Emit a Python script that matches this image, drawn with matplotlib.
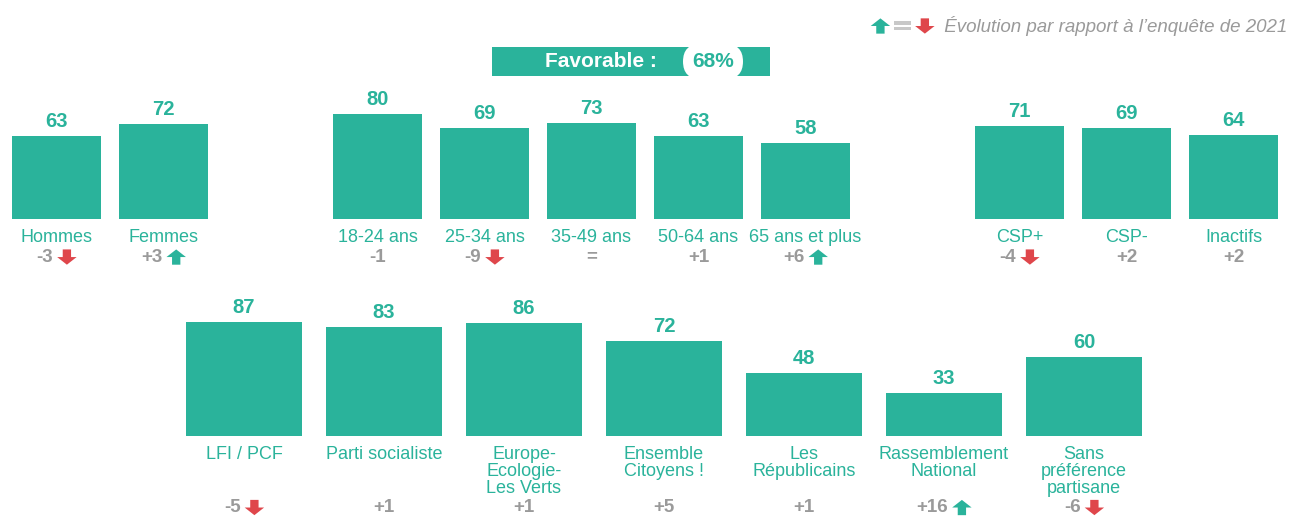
import matplotlib
matplotlib.use('Agg')
import matplotlib.pyplot as plt
from matplotlib.offsetbox import TextArea, DrawingArea, HPacker, AnnotationBbox
from matplotlib.patches import Polygon, Rectangle, FancyBboxPatch
from matplotlib.transforms import IdentityTransform

plt.rcParams['font.family'] = ['Liberation Sans', 'DejaVu Sans']

TEAL = '#2AB39B'
RED = '#DF464B'
GREY = '#9A9A9A'
LIGHT = '#C8C8C8'

# ligne du haut : sexe / age / CSP
top_groups = [['Hommes', 'Femmes'],
              ['18-24 ans', '25-34 ans', '35-49 ans', '50-64 ans', '65 ans et plus'],
              ['CSP+', 'CSP-', 'Inactifs']]
top_values = [63, 72, 80, 69, 73, 63, 58, 71, 69, 64]
top_changes = ['-3', '+3', '-1', '-9', '=', '+1', '+6', '-4', '+2', '+2']
top_trend = ['down', 'up', None, 'down', None, None, 'up', 'down', None, None]

# ligne du bas : proximite partisane
bottom_labels = ['LFI / PCF', 'Parti socialiste', 'Europe-\nEcologie-\nLes Verts',
                 'Ensemble\nCitoyens !', 'Les\nRépublicains', 'Rassemblement\nNational',
                 'Sans\npréférence\npartisane']
bottom_values = [87, 83, 86, 72, 48, 33, 60]
bottom_changes = ['-5', '+1', '+1', '+5', '+1', '+16', '-6']
bottom_trend = ['down', None, None, None, None, 'up', 'down']

favorable = 68
legend_text = 'Évolution par rapport à l’enquête de 2021'


def arrow_box(kind):
    da = DrawingArea(14, 11, 0, 0)
    if kind == 'up':
        pts = [(4, 0), (10, 0), (10, 5.5), (14, 5.5), (7, 11), (0, 5.5), (4, 5.5)]
        col = TEAL
    else:
        pts = [(4, 11), (10, 11), (10, 5.5), (14, 5.5), (7, 0), (0, 5.5), (4, 5.5)]
        col = RED
    da.add_artist(Polygon(pts, closed=True, fc=col, ec='none'))
    return da


def equal_box():
    da = DrawingArea(12, 11, 0, 0)
    da.add_artist(Rectangle((0, 2.4), 12, 2.4, fc=LIGHT, ec='none'))
    da.add_artist(Rectangle((0, 6.4), 12, 2.4, fc=LIGHT, ec='none'))
    return da


def change_label(ax, x, txt, trend, dy):
    kids = [TextArea(txt, textprops=dict(color=GREY, fontsize=13.5, fontweight='bold'))]
    if trend:
        kids.append(arrow_box(trend))
    box = HPacker(children=kids, align='center', pad=0, sep=3)
    ab = AnnotationBbox(box, (x, 0), xybox=(0, dy), xycoords='data',
                        boxcoords='offset points', frameon=False,
                        box_alignment=(0.5, 0.5), annotation_clip=False, pad=0)
    ax.add_artist(ab)


def draw_row(ax, pos, labels, values, changes, trends, width, dy_change):
    ax.bar(pos, values, width=width, color=TEAL)
    for x, lab, v, c, t in zip(pos, labels, values, changes, trends):
        ax.annotate(str(v), (x, v), xytext=(0, 10.5), textcoords='offset points',
                    ha='center', va='center', color=TEAL, fontsize=14.5, fontweight='bold')
        ax.annotate(lab, (x, 0), xytext=(0, -7.5), textcoords='offset points',
                    ha='center', va='top', color=TEAL, fontsize=13, linespacing=1.0)
        change_label(ax, x, c, t, dy_change)
    ax.set_ylim(0, 100)
    ax.axis('off')


fig = plt.figure(figsize=(12.93, 5.31), dpi=100)

# positions des barres du haut : un creneau vide entre les groupes
top_pos = []
top_labels = []
slot = 0
for g in top_groups:
    for lab in g:
        top_pos.append(slot)
        top_labels.append(lab)
        slot += 1
    slot += 1

ax1 = fig.add_axes([0, 1 - 219 / 531, 1, 131.5 / 531])
draw_row(ax1, top_pos, top_labels, top_values, top_changes, top_trend, 0.83, -27.4)
ax1.set_xlim(-56.5 / 107, (1293 - 56.5) / 107)

ax2 = fig.add_axes([0, 1 - 436 / 531, 1, 131.5 / 531])
draw_row(ax2, list(range(len(bottom_values))), bottom_labels, bottom_values,
         bottom_changes, bottom_trend, 0.83, -51.5)
ax2.set_xlim(-244 / 140, (1293 - 244) / 140)

# bandeau "Favorable"
fig.add_artist(Rectangle((492, 531 - 76), 278, 29, fc=TEAL, ec='none',
                         transform=IdentityTransform()))
fig.add_artist(FancyBboxPatch((683, 531 - 79), 60, 35, boxstyle='round,pad=0,rounding_size=17.5',
                              fc='white', ec='none', transform=IdentityTransform()))
fig.text(601 / 1293, 1 - 61.5 / 531, 'Favorable :', color='white', fontsize=15,
         fontweight='bold', ha='center', va='center')
fig.text(713 / 1293, 1 - 61.5 / 531, f'{favorable}%', color=TEAL, fontsize=15,
         fontweight='bold', ha='center', va='center')

# legende en haut a droite
leg = HPacker(children=[arrow_box('up'), equal_box(), arrow_box('down'),
                        TextArea(' ' + legend_text,
                                 textprops=dict(color=GREY, fontsize=13.5, style='italic'))],
              align='center', pad=0, sep=3)
ab = AnnotationBbox(leg, (1287 / 1293, 1 - 26 / 531), xycoords='figure fraction',
                    frameon=False, box_alignment=(1, 0.5), annotation_clip=False, pad=0)
ax1.add_artist(ab)

fig.savefig('out.png', dpi=100)
